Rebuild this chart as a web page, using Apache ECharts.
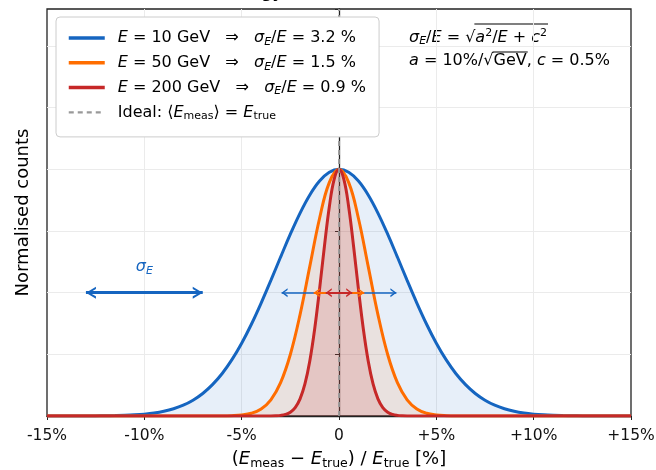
<!DOCTYPE html>
<html>
<head>
<meta charset="utf-8">
<script src="https://cdn.jsdelivr.net/npm/echarts@6/dist/echarts.min.js"></script>
<style>
  html, body { margin: 0; padding: 0; background: #fff; }
  #chart { width: 656px; height: 470px; }
</style>
</head>
<body>
<div id="chart"></div>
<script>
// x axis ticks, (E_meas - E_true)/E_true in %
const xTickValues = [-15, -10, -5, 0, 5, 10, 15];
const xTickLabels = ["-15%", "-10%", "-5%", "0", "+5%", "+10%", "+15%"];

// E = 10 GeV, sigma/E = 3.2 %
const x10 = [-15, -14.5, -14, -13.5, -13, -12.5, -12, -11.5, -11, -10.5, -10, -9.5, -9, -8.5, -8, -7.5, -7, -6.5, -6, -5.5, -5, -4.5, -4, -3.5, -3, -2.5, -2, -1.5, -1, -0.5,
  0, 0.5, 1, 1.5, 2, 2.5, 3, 3.5, 4, 4.5, 5, 5.5, 6, 6.5, 7, 7.5, 8, 8.5, 9, 9.5, 10, 10.5, 11, 11.5, 12, 12.5, 13, 13.5, 14, 14.5, 15];
const y10 = [0, 0, 0.0001, 0.0001, 0.0003, 0.0005, 0.0009, 0.0016, 0.0027, 0.0046, 0.0076, 0.0122, 0.0192, 0.0294, 0.0439, 0.0641, 0.0914, 0.1271, 0.1724, 0.2283, 0.295, 0.372, 0.4578, 0.5498, 0.6444, 0.737, 0.8226, 0.896, 0.9523, 0.9879,
  1, 0.9879, 0.9523, 0.896, 0.8226, 0.737, 0.6444, 0.5498, 0.4578, 0.372, 0.295, 0.2283, 0.1724, 0.1271, 0.0914, 0.0641, 0.0439, 0.0294, 0.0192, 0.0122, 0.0076, 0.0046, 0.0027, 0.0016, 0.0009, 0.0005, 0.0003, 0.0001, 0.0001, 0, 0];

// E = 50 GeV, sigma/E = 1.5 %
const x50 = [-15, -6, -5.5, -5, -4.5, -4, -3.5, -3, -2.5, -2, -1.5, -1, -0.5, 0, 0.5, 1, 1.5, 2, 2.5, 3, 3.5, 4, 4.5, 5, 5.5, 6, 15];
const y50 = [0, 0.0003, 0.0012, 0.0039, 0.0111, 0.0286, 0.0657, 0.1353, 0.2494, 0.4111, 0.6065, 0.8007, 0.946, 1, 0.946, 0.8007, 0.6065, 0.4111, 0.2494, 0.1353, 0.0657, 0.0286, 0.0111, 0.0039, 0.0012, 0.0003, 0];

// E = 200 GeV, sigma/E = 0.9 %
const x200 = [-15, -3.5, -3.25, -3, -2.75, -2.5, -2.25, -2, -1.75, -1.5, -1.25, -1, -0.75, -0.5, -0.25, 0, 0.25, 0.5, 0.75, 1, 1.25, 1.5, 1.75, 2, 2.25, 2.5, 2.75, 3, 3.25, 3.5, 15];
const y200 = [0, 0.0003, 0.0009, 0.0025, 0.0065, 0.0155, 0.0342, 0.0695, 0.1298, 0.2231, 0.3529, 0.5134, 0.6873, 0.8465, 0.9592, 1, 0.9592, 0.8465, 0.6873, 0.5134, 0.3529, 0.2231, 0.1298, 0.0695, 0.0342, 0.0155, 0.0065, 0.0025, 0.0009, 0.0003, 0];

// +-sigma arrows drawn at half height (tips)
const arrowY = 0.5;
const refArrow = [-13, -7];
const sigmaTips = [2.95, 1.3, 0.68];

const blue = "#1565c0", orange = "#ff6d00", red = "#c62828";
const fam = "DejaVu Sans";

const rich = {
  n: { fontSize: 16, lineHeight: 19, fontFamily: fam, color: "#000" },
  i: { fontSize: 16, lineHeight: 19, fontFamily: fam, fontStyle: "italic", color: "#000" },
  sub: { fontSize: 11, lineHeight: 10, verticalAlign: "bottom", fontFamily: fam, color: "#000" },
  si: { fontSize: 11, lineHeight: 10, verticalAlign: "bottom", fontFamily: fam, fontStyle: "italic", color: "#000" },
  sup: { fontSize: 11, lineHeight: 8, verticalAlign: "top", fontFamily: fam, color: "#000" }
};

const legendText = {
  E10: "{i|E}{n| = 10 GeV   ⇒   }{i|σ}{si|E}{n|/}{i|E}{n| = 3.2 %}",
  E50: "{i|E}{n| = 50 GeV   ⇒   }{i|σ}{si|E}{n|/}{i|E}{n| = 1.5 %}",
  E200: "{i|E}{n| = 200 GeV   ⇒   }{i|σ}{si|E}{n|/}{i|E}{n| = 0.9 %}",
  Ideal: "{n|Ideal: ⟨}{i|E}{sub|meas}{n|⟩ = }{i|E}{sub|true}"
};

// formula box, split around the square roots so the overline can follow the text
const f1Pre = [["i", "σ"], ["si", "E"], ["n", "/"], ["i", "E"], ["n", " = √"]];
const f1Root = [["i", "a"], ["sup", "2"], ["n", "/"], ["i", "E"], ["n", " + "], ["i", "c"], ["sup", "2"]];
const f2Pre = [["i", "a"], ["n", " = 10%/√"]];
const f2Root = [["n", "GeV"]];
const f2Post = [["n", ", "], ["i", "c"], ["n", " = 0.5%"]];

const measure = document.createElement("canvas").getContext("2d");
function textWidth(parts) {
  let w = 0;
  parts.forEach(([s, t]) => {
    const st = rich[s];
    measure.font = (st.fontStyle === "italic" ? "italic " : "") + st.fontSize + "px '" + fam + "'";
    w += measure.measureText(t).width;
  });
  return w;
}
const richStr = (parts) => parts.map(([s, t]) => "{" + s + "|" + t + "}").join("");

const pairs = (xs, ys) => xs.map((v, i) => [v, ys[i]]);

const chevron = "path://M0,10 L5,0 L10,10 L8,10 L5,3.6 L2,10 Z";

function arrow(x0, x1, size, width, color) {
  return [
    { coord: [x0, arrowY], symbolSize: size, lineStyle: { width: width, color: color, type: "solid" } },
    { coord: [x1, arrowY], symbolSize: size }
  ];
}

function curve(name, xs, ys, color, alpha, arrows) {
  return {
    name: name,
    type: "line",
    data: pairs(xs, ys),
    smooth: 0.4,
    symbol: "none",
    lineStyle: { width: 3, color: color },
    itemStyle: { color: color },
    areaStyle: { color: color, opacity: alpha },
    markLine: {
      silent: true,
      symbol: [chevron, chevron],
      symbolOffset: [[0, "50%"], [0, "50%"]],
      label: { show: false },
      emphasis: { disabled: true },
      data: arrows
    }
  };
}

const chart = echarts.init(document.getElementById("chart"));

const sBlue = curve("E10", x10, y10, blue, 0.1, [
  arrow(refArrow[0], refArrow[1], [12, 10], 3, blue),
  arrow(-sigmaTips[0], sigmaTips[0], [9, 6], 1.6, blue)
]);
sBlue.markLine.data[0][0].label = {
  show: true,
  position: "insideMiddleTop",
  distance: 16,
  formatter: "{s|σ}{e|E}",
  rich: {
    s: { fontSize: 16, lineHeight: 19, fontStyle: "italic", fontFamily: fam, color: blue },
    e: { fontSize: 11, lineHeight: 10, verticalAlign: "bottom", fontStyle: "italic", fontFamily: fam, color: blue }
  }
};

const fx = 409;
const w1Pre = textWidth(f1Pre), w1Root = textWidth(f1Root);
const w2Pre = textWidth(f2Pre), w2Root = textWidth(f2Root);

const option = {
  animation: false,
  textStyle: { fontFamily: fam },
  title: {
    text: "Energy Resolution",
    left: 218,
    top: -18,
    textStyle: { fontSize: 15, fontWeight: "bold", fontFamily: fam, color: "#000" }
  },
  grid: {
    left: 47, right: 25, top: 9, bottom: 54,
    outerBoundsMode: "none",
    show: true, borderColor: "#222", borderWidth: 1.3, backgroundColor: "transparent"
  },
  legend: {
    orient: "vertical",
    left: 56, top: 17, z: 20,
    data: [
      { name: "E10", lineStyle: { width: 3.5 } },
      { name: "E50", lineStyle: { width: 3.5 } },
      { name: "E200", lineStyle: { width: 3.5 } },
      { name: "Ideal", lineStyle: { width: 2.2 } }
    ],
    formatter: (name) => legendText[name],
    itemWidth: 36, itemHeight: 14, itemGap: 7.3,
    selectedMode: false,
    padding: [13, 13, 15, 11],
    backgroundColor: "#ffffff",
    borderColor: "#cccccc", borderWidth: 1, borderRadius: 4,
    itemStyle: { opacity: 0 },
    textStyle: { padding: [0, 0, 0, 8], rich: rich }
  },
  xAxis: {
    type: "value", min: -15, max: 15, interval: 5,
    name: "{n|(}{i|E}{sub|meas}{n| − }{i|E}{sub|true}{n|) / }{i|E}{sub|true}{n| [%]}",
    nameLocation: "middle", nameGap: 33,
    nameTextStyle: {
      rich: {
        n: { fontSize: 18, lineHeight: 21, fontFamily: fam, color: "#000" },
        i: { fontSize: 18, lineHeight: 21, fontFamily: fam, fontStyle: "italic", color: "#000" },
        sub: { fontSize: 12.5, lineHeight: 11, verticalAlign: "bottom", fontFamily: fam, color: "#000" }
      }
    },
    axisLine: { lineStyle: { color: "#222", width: 1.3 } },
    axisTick: { show: true, length: 4, lineStyle: { color: "#222", width: 1 } },
    axisLabel: {
      fontSize: 15.5, color: "#111", margin: 12,
      formatter: (v) => xTickLabels[xTickValues.indexOf(v)]
    },
    splitLine: { show: true, showMinLine: false, showMaxLine: false, lineStyle: { color: "#ebebeb", width: 1 } }
  },
  yAxis: {
    type: "value", min: 0, max: 1.65, interval: 0.25,
    name: "Normalised counts",
    nameLocation: "middle", nameGap: 15,
    nameTextStyle: { fontSize: 18, color: "#000" },
    axisLine: { show: true, lineStyle: { color: "#222", width: 1.3 } },
    axisTick: { show: true, length: 4, lineStyle: { color: "#222", width: 1 } },
    axisLabel: { show: false },
    splitLine: { show: true, showMinLine: false, showMaxLine: false, lineStyle: { color: "#ebebeb", width: 1 } }
  },
  graphic: [
    { type: "text", left: fx, top: 28, style: { text: richStr(f1Pre.concat(f1Root)), rich: rich } },
    { type: "text", left: fx, top: 53, style: { text: richStr(f2Pre.concat(f2Root, f2Post)), rich: rich } },
    { type: "line", shape: { x1: fx + w1Pre - 1, y1: 24, x2: fx + w1Pre + w1Root + 1, y2: 24 }, style: { stroke: "#000", lineWidth: 1.1 } },
    { type: "line", shape: { x1: fx + w2Pre - 1, y1: 52, x2: fx + w2Pre + w2Root + 1, y2: 52 }, style: { stroke: "#000", lineWidth: 1.1 } }
  ],
  series: [
    sBlue,
    curve("E50", x50, y50, orange, 0.1, [arrow(-sigmaTips[1], sigmaTips[1], [9, 6], 2, orange)]),
    curve("E200", x200, y200, red, 0.15, [arrow(-sigmaTips[2], sigmaTips[2], [9, 6], 2, red)]),
    {
      name: "Ideal",
      type: "line",
      data: [[0, 0], [0, 1.65]],
      symbol: "none",
      lineStyle: { color: "#999", width: 1.8, type: [5, 4] },
      itemStyle: { color: "#999" }
    }
  ]
};

chart.setOption(option);
</script>
</body>
</html>
